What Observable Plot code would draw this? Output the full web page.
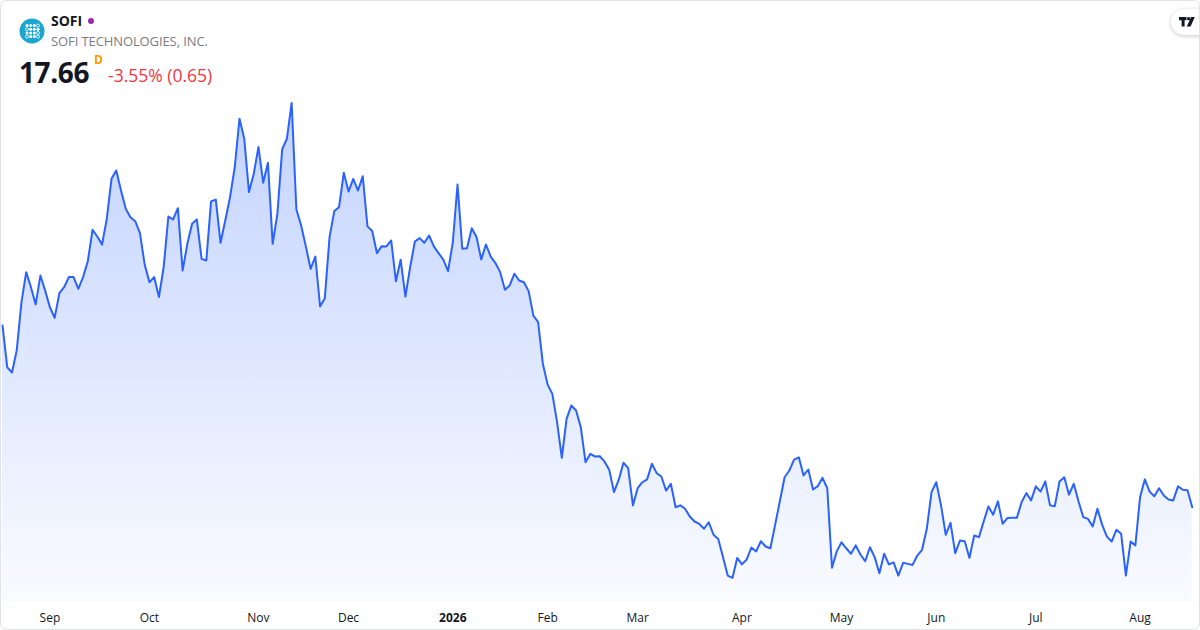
<!DOCTYPE html>
<html>
<head>
<meta charset="utf-8">
<script src="https://cdn.jsdelivr.net/npm/d3@7"></script>
<script src="https://cdn.jsdelivr.net/npm/@observablehq/plot@0.6"></script>
<style>
html, body { margin: 0; padding: 0; background: #fff; }
#wrap { position: relative; width: 1200px; height: 630px; box-sizing: border-box; border: 1px solid #e0e3eb; border-radius: 6px; overflow: hidden; font-family: "Open Sans", "Noto Sans", sans-serif; background: #fff; }
#header { position: relative; height: 95px; }
#logo { position: absolute; left: 18px; top: 17px; width: 26px; height: 26px; }
#sym { position: absolute; left: 50px; top: 10px; font-size: 14px; font-weight: 700; color: #131722; line-height: 20px; }
#dot { position: absolute; left: 87px; top: 17px; width: 6px; height: 6px; border-radius: 50%; background: #9c27b0; }
#name { position: absolute; left: 50px; top: 30px; font-size: 13px; color: #787b86; line-height: 20px; letter-spacing: -0.1px; }
#price { position: absolute; left: 18px; top: 53px; font-size: 28px; font-weight: 700; color: #131722; line-height: 36px; letter-spacing: -0.4px; }
#dd { position: absolute; left: 93px; top: 52px; font-size: 12px; font-weight: 700; color: #ff9800; line-height: 14px; }
#chg { position: absolute; left: 107px; top: 62px; font-size: 17.5px; color: #f23645; line-height: 24px; }
#tv { position: absolute; left: 1170px; top: 8px; width: 44px; height: 26px; border-radius: 13px; background: #fff; box-shadow: 0 1px 4px rgba(0,0,0,0.22); }
#tv svg { position: absolute; left: 8px; top: 8px; }
#chart svg { display: block; }
</style>
</head>
<body>
<div id="wrap">
  <div id="header">
    <svg id="logo" viewBox="0 0 26 26">
      <circle cx="13" cy="13" r="12.5" fill="#1aa6d0"/>
      <g fill="#fff">
        <circle cx="8" cy="7.5" r="1.5"/><circle cx="11.7" cy="7.5" r="1.5"/><circle cx="15.3" cy="7.5" r="1.5"/><circle cx="19" cy="7.5" r="1.5" fill="none" stroke="#fff" stroke-width="0.8"/>
        <circle cx="8" cy="11.2" r="1.5" fill="none" stroke="#fff" stroke-width="0.8"/><circle cx="11.7" cy="11.2" r="1.5"/><circle cx="15.3" cy="11.2" r="1.5"/><circle cx="19" cy="11.2" r="1.5"/>
        <circle cx="8" cy="14.9" r="1.5"/><circle cx="11.7" cy="14.9" r="1.5"/><circle cx="15.3" cy="14.9" r="1.5"/><circle cx="19" cy="14.9" r="1.5" fill="none" stroke="#fff" stroke-width="0.8"/>
        <circle cx="8" cy="18.6" r="1.5" fill="none" stroke="#fff" stroke-width="0.8"/><circle cx="11.7" cy="18.6" r="1.5"/><circle cx="15.3" cy="18.6" r="1.5"/><circle cx="19" cy="18.6" r="1.5" fill="none" stroke="#fff" stroke-width="0.8"/>
      </g>
    </svg>
    <div id="sym">SOFI</div>
    <div id="dot"></div>
    <div id="name">SOFI TECHNOLOGIES, INC.</div>
    <div id="price">17.66</div>
    <div id="dd">D</div>
    <div id="chg">-3.55% (0.65)</div>
    <div id="tv">
      <svg width="16" height="10" viewBox="0 0 16 10">
        <path d="M0 0h7.5v3.2H5.6V9.5H2.6V3.2H0z" fill="#131722"/>
        <circle cx="9.6" cy="1.7" r="1.6" fill="#131722"/>
        <path d="M12 0h3.8l-4.2 9.5H7.8z" fill="#131722"/>
      </svg>
    </div>
  </div>
  <div id="chart"></div>
</div>
<script>
// Daily closes, one per trading day (Aug 18, 2025 .. Aug 18, 2026)
const closes = [
  24.65, 23.04, 22.84, 23.69, 25.54, 26.70, 26.12, 25.46, 26.57, 25.99,
  25.35, 24.94, 25.89, 26.12, 26.51, 26.51, 26.06, 26.51, 27.12, 28.33,
  28.07, 27.76, 28.75, 30.29, 30.61, 29.84, 29.14, 28.81, 28.66, 28.20,
  26.99, 26.31, 26.51, 25.74, 26.89, 28.84, 28.73, 29.16, 26.76, 27.79,
  28.56, 28.73, 27.21, 27.15, 29.42, 29.49, 27.83, 28.69, 29.58, 30.74,
  32.60, 31.83, 29.78, 30.48, 31.51, 30.14, 30.91, 27.79, 28.95, 31.42,
  31.83, 33.21, 29.11, 28.50, 27.69, 26.83, 27.30, 25.38, 25.70, 28.05,
  29.05, 29.20, 30.52, 29.80, 30.29, 29.84, 30.39, 28.46, 28.28, 27.43,
  27.70, 27.69, 27.92, 26.35, 27.18, 25.76, 26.89, 27.88, 28.01, 27.83,
  28.11, 27.69, 27.43, 27.18, 26.74, 27.84, 30.07, 27.60, 27.62, 28.39,
  28.05, 27.19, 27.76, 27.30, 27.05, 26.70, 26.02, 26.19, 26.64, 26.38,
  26.31, 25.97, 25.03, 24.78, 23.18, 22.38, 22.02, 20.93, 19.56, 21.06,
  21.57, 21.38, 20.74, 19.39, 19.71, 19.61, 19.62, 19.42, 19.10, 18.24,
  18.71, 19.37, 19.16, 17.73, 18.39, 18.62, 18.73, 19.33, 18.97, 18.84,
  18.30, 18.56, 17.66, 17.73, 17.60, 17.30, 17.11, 17.02, 16.83, 17.08,
  16.60, 16.44, 15.74, 15.03, 14.94, 15.71, 15.46, 15.65, 16.11, 15.96,
  16.35, 16.15, 16.08, 16.98, 17.89, 18.81, 19.07, 19.49, 19.58, 18.88,
  19.11, 18.34, 18.47, 18.79, 18.39, 15.33, 15.96, 16.31, 16.08, 15.87,
  16.19, 15.84, 15.58, 16.12, 15.74, 15.12, 15.87, 15.46, 15.54, 15.03,
  15.52, 15.48, 15.44, 15.80, 16.02, 16.83, 18.24, 18.62, 17.73, 16.60,
  17.06, 15.89, 16.38, 16.35, 15.71, 16.57, 16.51, 17.11, 17.69, 17.37,
  17.89, 17.02, 17.24, 17.25, 17.25, 17.85, 18.20, 17.92, 18.46, 18.26,
  18.65, 17.73, 17.70, 18.65, 18.81, 18.14, 18.56, 17.89, 17.28, 17.21,
  16.92, 17.60, 16.98, 16.53, 16.34, 16.79, 16.64, 15.03, 16.34, 16.19,
  18.05, 18.73, 18.26, 18.08, 18.39, 18.11, 17.96, 17.92, 18.46, 18.33,
  18.31, 17.66
];
// Month-start trading-day indices and their labels
const tickIndex = [10, 31, 54, 73, 95, 115, 134, 156, 177, 197, 218, 240];
const tickLabels = ["Sep", "Oct", "Nov", "Dec", "2026", "Feb", "Mar", "Apr", "May", "Jun", "Jul", "Aug"];
const yearLabel = "2026";

const data = closes.map((close, i) => ({ i, close }));
const labelOf = (d) => tickLabels[tickIndex.indexOf(d)];
const normalTicks = tickIndex.filter((d) => labelOf(d) !== yearLabel);
const yearTicks = tickIndex.filter((d) => labelOf(d) === yearLabel);

const W = 1198, H = 533;
const step = 4.74;

const gradient = () => {
  const ns = "http://www.w3.org/2000/svg";
  const defs = document.createElementNS(ns, "defs");
  const lg = document.createElementNS(ns, "linearGradient");
  lg.setAttribute("id", "sofiGrad");
  lg.setAttribute("gradientUnits", "userSpaceOnUse");
  lg.setAttribute("x1", "0"); lg.setAttribute("x2", "0");
  lg.setAttribute("y1", "6"); lg.setAttribute("y2", "506");
  [[0, 0.28], [1, 0.025]].forEach(([o, a]) => {
    const s = document.createElementNS(ns, "stop");
    s.setAttribute("offset", String(o));
    s.setAttribute("stop-color", "#2962ff");
    s.setAttribute("stop-opacity", String(a));
    lg.appendChild(s);
  });
  defs.appendChild(lg);
  return defs;
};

const chart = Plot.plot({
  width: W,
  height: H,
  marginTop: 0,
  marginLeft: 0,
  marginRight: 0,
  marginBottom: 16,
  x: { domain: [0, closes.length - 1], range: [1, 1 + step * (closes.length - 1)], axis: null, label: null },
  y: { domain: [14, 34], range: [505.86, -14.14], axis: null, label: null },
  style: { fontFamily: "'Open Sans', 'Noto Sans', sans-serif", fontSize: "12px", color: "#131722", background: "transparent", overflow: "visible" },
  marks: [
    gradient,
    Plot.areaY(data, { x: "i", y1: 14, y2: "close", fill: "url(#sofiGrad)" }),
    Plot.lineY(data, { x: "i", y: "close", stroke: "#2962ff", strokeWidth: 2, strokeLinejoin: "round", strokeLinecap: "round" }),
    Plot.axisX({ ticks: normalTicks, tickFormat: labelOf, tickSize: 0, tickPadding: 0, fontSize: 12, fill: "#131722", label: null }),
    Plot.axisX({ ticks: yearTicks, tickFormat: labelOf, tickSize: 0, tickPadding: 0, fontSize: 12, fontWeight: "bold", fill: "#131722", label: null })
  ]
});
document.getElementById("chart").appendChild(chart);
</script>
</body>
</html>
